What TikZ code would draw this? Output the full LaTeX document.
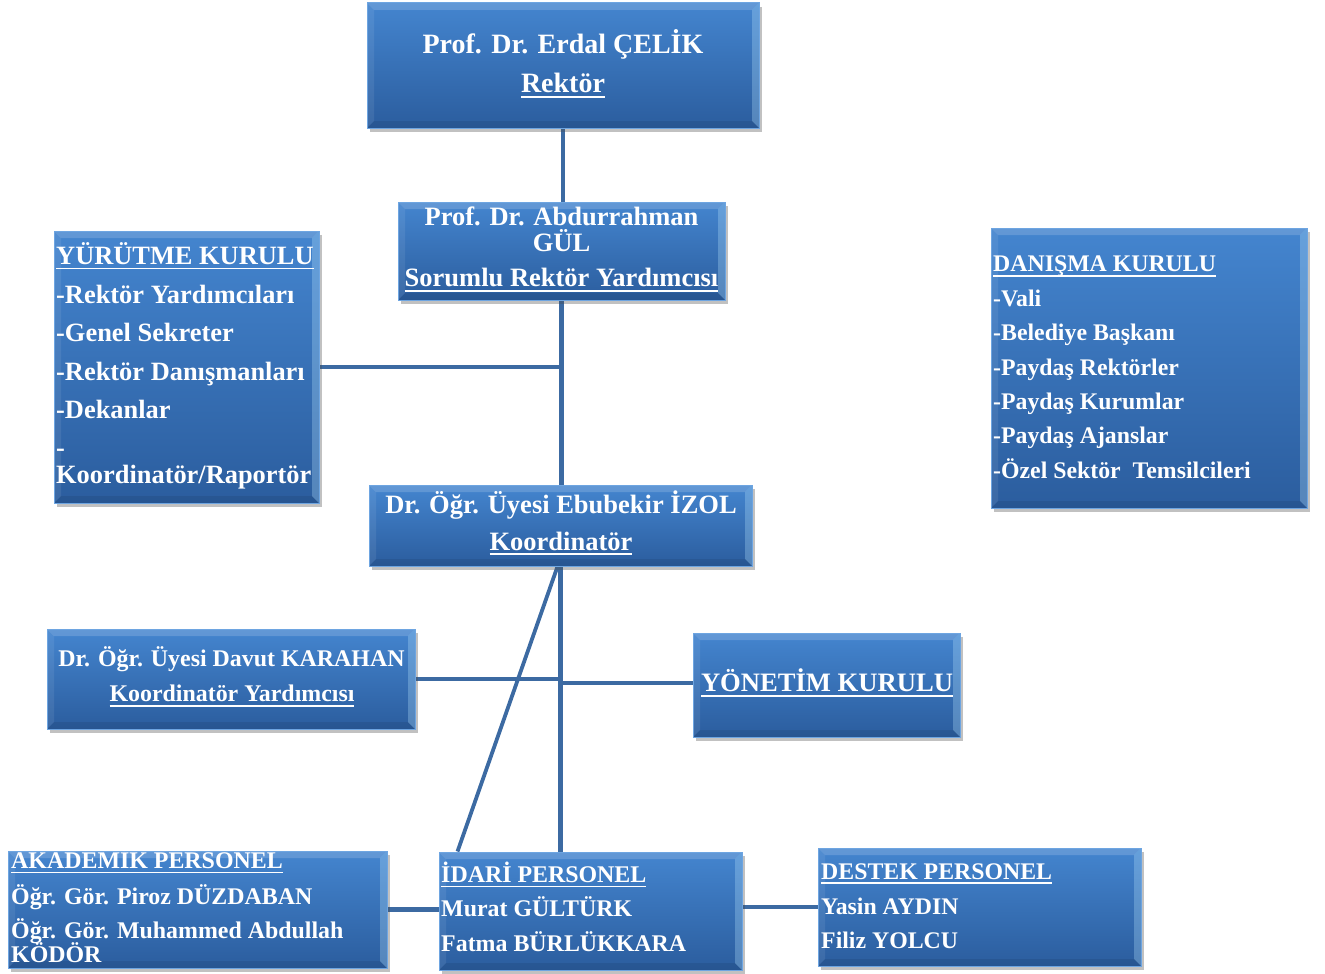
\documentclass[tikz,border=0pt]{standalone}
\usepackage{fontspec}
\setmainfont{Liberation Serif}
\usetikzlibrary{shadows,calc}
\definecolor{boxtop}{RGB}{68,133,207}
\definecolor{boxbot}{RGB}{43,93,158}
\definecolor{edgecol}{RGB}{110,165,225}
\definecolor{linecol}{RGB}{60,106,162}
\definecolor{hilite}{RGB}{175,220,248}
\newcommand\myul[1]{\leavevmode\setbox0\hbox{#1}\rlap{\rule[-5pt]{\wd0}{1.8pt}}\box0}
\newcommand\fsz[1]{\fontsize{#1}{#1}\selectfont\bfseries}
\pgfdeclarelayer{bg}
\pgfsetlayers{bg,main}
\tikzset{
  box/.style={rectangle, draw=edgecol, line width=1pt, top color=boxtop, bottom color=boxbot,
    inner sep=0pt, drop shadow={shadow xshift=3pt, shadow yshift=-4pt, opacity=.35, fill=black!70},
    path picture={
      \coordinate (bnw) at (path picture bounding box.north west);
      \coordinate (bne) at (path picture bounding box.north east);
      \coordinate (bsw) at (path picture bounding box.south west);
      \coordinate (bse) at (path picture bounding box.south east);
      \fill[white, opacity=.16] (bnw) -- (bne) -- ($(bne)+(-7pt,-7pt)$) -- ($(bnw)+(7pt,-7pt)$) -- cycle;
      \fill[white, opacity=.08] (bnw) -- ($(bnw)+(7pt,-7pt)$) -- ($(bsw)+(7pt,7pt)$) -- (bsw) -- cycle;
      \fill[hilite, opacity=.32] (bne) -- ($(bne)+(-7pt,-7pt)$) -- ($(bse)+(-7pt,7pt)$) -- (bse) -- cycle;
      \fill[black, opacity=.08] (bsw) -- ($(bsw)+(7pt,7pt)$) -- ($(bse)+(-7pt,7pt)$) -- (bse) -- cycle;
    }},
  txt/.style={text=white, inner sep=0pt},
  conn/.style={draw=linecol, line width=4.5pt},
}
\begin{document}
\begin{tikzpicture}[x=1pt,y=-1pt]
\useasboundingbox (0,0) rectangle (1325,974);

% boxes
\node[box, minimum width=392pt, minimum height=125pt] (rek) at (563,65.5) {};
\node[box, minimum width=327pt, minimum height=98pt] (gul) at (561.5,251) {};
\node[box, minimum width=265pt, minimum height=272pt] (yur) at (186.5,367) {};
\node[box, minimum width=383pt, minimum height=81pt] (koo) at (560.5,525.5) {};
\node[box, minimum width=368pt, minimum height=100pt] (kar) at (231,679) {};
\node[box, minimum width=267pt, minimum height=104pt] (yon) at (826.5,685) {};
\node[box, minimum width=316pt, minimum height=280pt] (dan) at (1149,368) {};
\node[box, minimum width=379pt, minimum height=117pt] (aka) at (197.5,909.5) {};
\node[box, minimum width=303pt, minimum height=118pt] (ida) at (590.5,911) {};
\node[box, minimum width=323pt, minimum height=118pt] (des) at (979.5,907) {};

% centred texts
\node[txt, anchor=base] (rek-t1) at (563,53.3) {\fsz{28}Prof. Dr. Erdal ÇELİK};
\node[txt, anchor=base] (rek-t2) at (563,92.7) {\fsz{28}\myul{Rektör}};
\node[txt, anchor=base] (gul-t1) at (561.5,225.7) {\fsz{26.5}Prof. Dr. Abdurrahman};
\node[txt, anchor=base] (gul-t2) at (561.5,251.7) {\fsz{26.5}GÜL};
\node[txt, anchor=base] (gul-t3) at (561.5,286.7) {\fsz{26.5}\myul{Sorumlu Rektör Yardımcısı}};
\node[txt, anchor=base] (koo-t1) at (561,513.3) {\fsz{26.5}Dr. Öğr. Üyesi Ebubekir İZOL};
\node[txt, anchor=base] (koo-t2) at (561,550) {\fsz{26.5}\myul{Koordinatör}};
\node[txt, anchor=base] (kar-t1) at (231.5,666.7) {\fsz{23.9}Dr. Öğr. Üyesi Davut KARAHAN};
\node[txt, anchor=base] (kar-t2) at (232,701.7) {\fsz{23.9}\myul{Koordinatör Yardımcısı}};
\node[txt, anchor=base] (yon-t1) at (827,691.7) {\fsz{26.6}\myul{YÖNETİM KURULU}};

% left-aligned texts
\foreach \yy/\t [count=\i] in {264.3/{\myul{YÜRÜTME KURULU}}, 303.3/{-Rektör Yardımcıları},
  341.7/{-Genel Sekreter}, 380/{-Rektör Danışmanları}, 418.3/{-Dekanlar}, 456.7/{-},
  483.3/{Koordinatör/Raportör}}
  \node[txt, anchor=base west] (yur-t\i) at (56,\yy) {\fsz{26.4}\t};
\foreach \yy/\t [count=\i] in {271.7/{\myul{DANIŞMA KURULU}}, 306/{-Vali}, 340/{-Belediye Başkanı},
  375/{-Paydaş Rektörler}, 409.3/{-Paydaş Kurumlar}, 443.3/{-Paydaş Ajanslar},
  478.3/{-Özel Sektör\ \ Temsilcileri}}
  \node[txt, anchor=base west] (dan-t\i) at (993,\yy) {\fsz{23.8}\t};
\foreach \yy/\t [count=\i] in {868.3/{\myul{AKADEMİK PERSONEL}}, 904/{Öğr. Gör. Piroz DÜZDABAN},
  938.3/{Öğr. Gör. Muhammed Abdullah}, 962.7/{KÖDÖR}}
  \node[txt, anchor=base west] (aka-t\i) at (11,\yy) {\fsz{23.9}\t};
\foreach \yy/\t [count=\i] in {882.3/{\myul{İDARİ PERSONEL}}, 916.7/{Murat GÜLTÜRK}, 951/{Fatma BÜRLÜKKARA}}
  \node[txt, anchor=base west] (ida-t\i) at (441,\yy) {\fsz{23.9}\t};
\foreach \yy/\t [count=\i] in {879/{\myul{DESTEK PERSONEL}}, 914/{Yasin AYDIN}, 948.3/{Filiz YOLCU}}
  \node[txt, anchor=base west] (des-t\i) at (821,\yy) {\fsz{23.8}\t};

% connectors
\coordinate (yw) at ($(yon.west)+(0,2pt)$);
\coordinate (diagtop) at ($(koo.south)+(-3pt,0)$);
\coordinate (diagbot) at ($(ida.north west)+(19pt,0)$);
\begin{pgfonlayer}{bg}
\draw[conn] (rek.south) -- (rek.south |- gul.north);
\draw[conn] (gul.south) -- (gul.south |- koo.north);
\draw[conn] (yur.east) -- (yur.east -| gul.south);
\draw[conn] (koo.south) -- (koo.south |- ida.north);
\draw[conn, line width=3.8pt] (diagtop) -- (diagbot);
\draw[conn] (kar.east) -- (kar.east -| koo.south);
\draw[conn] (yw -| koo.south) -- (yw);
\draw[conn] (aka.east) -- (aka.east -| ida.west);
\draw[conn] (des.west -| ida.east) -- (des.west);
\end{pgfonlayer}
\end{tikzpicture}
\end{document}
